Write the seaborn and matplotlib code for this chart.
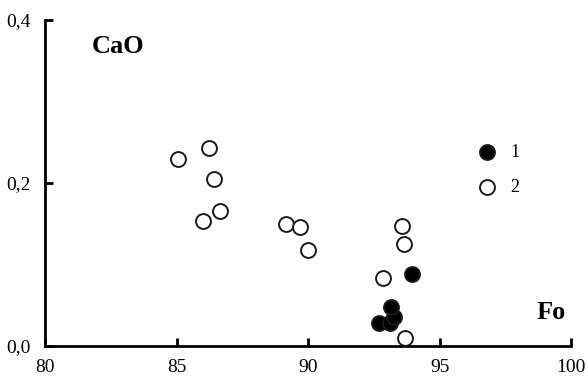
import matplotlib
matplotlib.use("Agg")
import matplotlib.pyplot as plt
import seaborn as sns
import pandas as pd

# Data
fo_1 = [93.94, 92.69, 93.11, 93.26, 93.15]
cao_1 = [0.088, 0.028, 0.028, 0.036, 0.048]
fo_2 = [85.05, 86.25, 86.44, 86.67, 85.99, 89.15, 89.68, 89.98, 92.84, 93.56, 93.63, 93.67]
cao_2 = [0.229, 0.243, 0.205, 0.166, 0.153, 0.150, 0.146, 0.118, 0.083, 0.147, 0.125, 0.010]
xticks = [80, 85, 90, 95, 100]
yticks = [0.0, 0.2, 0.4]
ytick_labels = ["0,0", "0,2", "0,4"]

df = pd.DataFrame({
    "Fo": fo_1 + fo_2,
    "CaO": cao_1 + cao_2,
    "group": ["1"] * len(fo_1) + ["2"] * len(fo_2),
})

sns.set_style("white")
plt.rcParams["font.family"] = ["Liberation Serif", "DejaVu Serif"]
plt.rcParams["text.color"] = "black"

fig = plt.figure(figsize=(5.88, 3.83), dpi=100)
ax = fig.add_axes([0.0765, 0.0966, 0.895, 0.851])

for grp, fc in [("2", "white"), ("1", "black")]:
    sub = df[df["group"] == grp]
    sns.scatterplot(data=sub, x="Fo", y="CaO", ax=ax, s=115,
                    facecolor=fc, edgecolor="#1a1a1a", linewidth=1.4,
                    label=grp, zorder=3, clip_on=False)

ax.set_xlim(80, 100)
ax.set_ylim(0, 0.4)
ax.set_xticks(xticks)
ax.set_xticklabels([str(t) for t in xticks])
ax.set_yticks(yticks)
ax.set_yticklabels(ytick_labels)
ax.set_xlabel("")
ax.set_ylabel("")
for side in ["top", "right"]:
    ax.spines[side].set_visible(False)
for side in ["left", "bottom"]:
    ax.spines[side].set_linewidth(2)
    ax.spines[side].set_color("black")
ax.tick_params(axis="both", direction="in", length=6, width=2, labelsize=14,
               colors="black", pad=10, bottom=True, left=True)
ax.tick_params(axis="x", pad=9)

ax.text(0.138, 0.92, "CaO", transform=ax.transAxes, fontsize=19,
        fontweight="bold", va="center", ha="center", color="black")
ax.text(0.962, 0.104, "Fo", transform=ax.transAxes, fontsize=19,
        fontweight="bold", va="center", ha="center", color="black")

handles, labels = ax.get_legend_handles_labels()
order = [labels.index("1"), labels.index("2")]
ax.legend([handles[i] for i in order], [labels[i] for i in order],
          loc="center left", bbox_to_anchor=(0.775, 0.54), frameon=False,
          fontsize=13, handletextpad=0.3, labelspacing=1.0, markerscale=1.0,
          labelcolor="black")

fig.savefig("out.png", dpi=100)
